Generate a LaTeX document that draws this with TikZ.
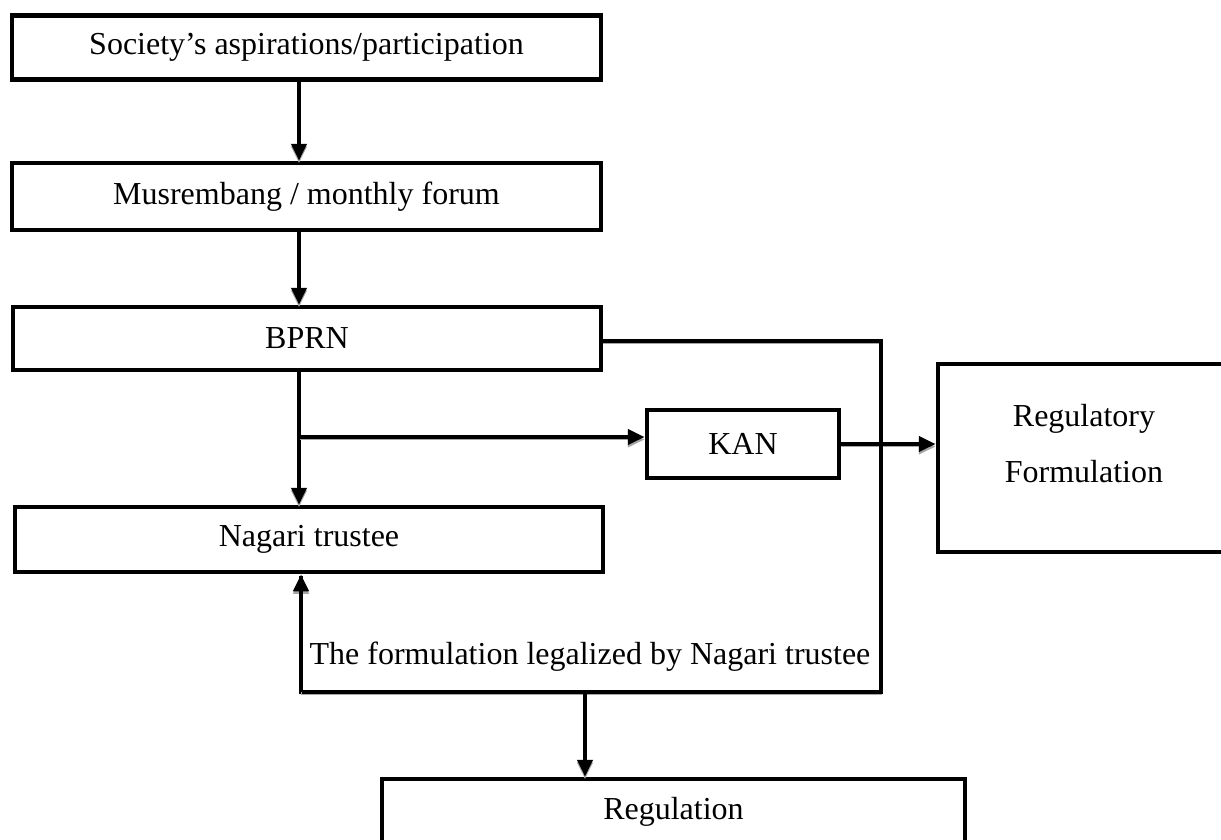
\documentclass[tikz,border=0pt]{standalone}
\usepackage{fontspec}
\setmainfont{Liberation Serif}
\usetikzlibrary{arrows.meta}
\begin{document}
\begin{tikzpicture}[x=1pt,y=-1pt,
  box/.style={draw, line width=4.5pt, inner sep=0pt, font=\fontsize{32}{38}\selectfont, align=center},
  shadow/.style={preaction={draw=black!35, transform canvas={yshift=-2.5pt}}},
  arr/.style={line width=4.5pt, shadow, -{Triangle[width=15pt,length=17pt]}},
  ln/.style={line width=4.5pt, shadow},
  lbl/.style={inner sep=0pt, font=\fontsize{32}{38}\selectfont}]
\useasboundingbox (0,0) rectangle (1221,839);
\clip (0,0) rectangle (1221,839);
\node[box, minimum width=589pt, minimum height=64pt] (soc) at (306.5,47.5) {\raisebox{-5pt}{Society’s aspirations/participation}};
\node[box, minimum width=589pt, minimum height=67pt] (mus) at (306.5,196.5) {Musrembang / monthly forum};
\node[box, minimum width=588pt, minimum height=63pt] (bprn) at (307,338.5) {BPRN};
\node[box, minimum width=588pt, minimum height=65pt] (nag) at (309,539.5) {Nagari trustee};
\node[box, minimum width=192pt, minimum height=68pt] (kan) at (743,444) {KAN};
\node[box, minimum width=292pt, minimum height=188pt, text depth=29pt, execute at begin node=\setlength{\baselineskip}{56pt}] (regf) at (1084,458) {Regulatory\\Formulation};
\node[box, minimum width=583pt, minimum height=66pt] (reg) at (673.5,812) {Regulation};
\node[lbl] (flab) at (590,657) {The formulation legalized by Nagari trustee};
\coordinate (a1) at (299,0);
\coordinate (br) at (300,437);
\coordinate (c1) at (881,341);
\coordinate (c2) at (881,692);
\coordinate (c3) at (301,692);
\coordinate (c4) at (585,692);
\draw[arr] (soc.south -| a1) -- (mus.north -| a1);
\draw[arr] (mus.south -| a1) -- (bprn.north -| a1);
\draw[arr] (bprn.south -| a1) -- (nag.north -| a1);
\draw[arr] (br) -- (br -| kan.west);
\draw[arr] (kan.east) -- (kan.east -| regf.west);
\draw[ln, line join=miter] (bprn.east |- c1) -- (c1) -- (c2) -- (c3) -- ([yshift=-2pt]c3 |- nag.south);
\draw[arr] (c3) -- (c3 |- nag.south);
\draw[arr] (c4) -- (c4 |- reg.north);
\end{tikzpicture}
\end{document}
